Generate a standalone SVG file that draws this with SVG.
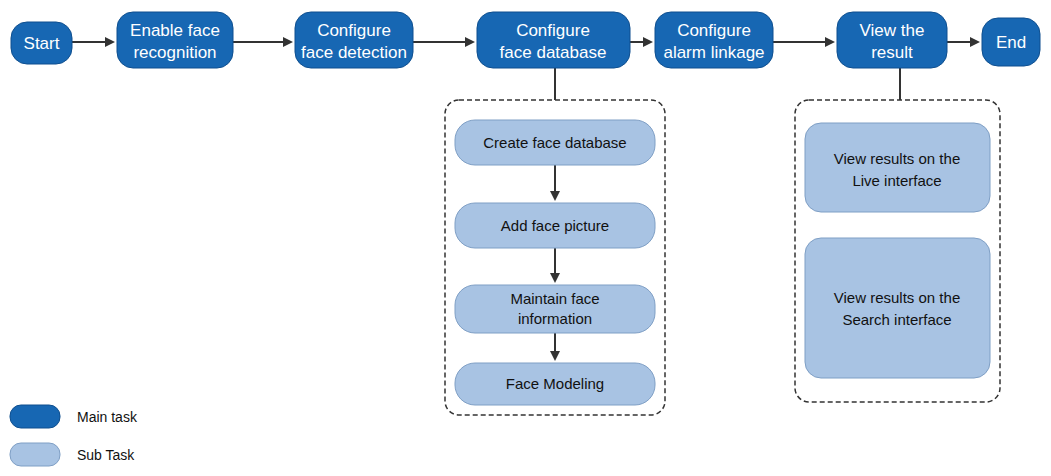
<svg xmlns="http://www.w3.org/2000/svg" width="1051" height="476" viewBox="0 0 1051 476">
<defs>
<marker id="ah" markerWidth="10" markerHeight="10" refX="8" refY="5" orient="auto" markerUnits="userSpaceOnUse"><path d="M0,0 L10,5 L0,10 z" fill="#333"/></marker>
<style>
.m{fill:#1767b3;stroke:#0f4f8f;stroke-width:1}
.s{fill:#a8c3e3;stroke:#7f9fc5;stroke-width:1}
.mt{font-family:"Liberation Sans",Arial,sans-serif;font-size:17px;fill:#fff;text-anchor:middle}
.st{font-family:"Liberation Sans",Arial,sans-serif;font-size:15px;fill:#111;text-anchor:middle}
.lt{font-family:"Liberation Sans",Arial,sans-serif;font-size:14px;fill:#111}
.c{stroke:#333;stroke-width:2;fill:none}
.d{stroke:#333;stroke-width:1.5;fill:none;stroke-dasharray:5,3}
</style>
</defs>
<rect width="1051" height="476" fill="#fff"/>
<g id="connectors">
<line class="c" x1="72" y1="42" x2="113" y2="42" marker-end="url(#ah)"/>
<line class="c" x1="233" y1="42" x2="291" y2="42" marker-end="url(#ah)"/>
<line class="c" x1="413" y1="42" x2="473" y2="42" marker-end="url(#ah)"/>
<line class="c" x1="630" y1="42" x2="651" y2="42" marker-end="url(#ah)"/>
<line class="c" x1="773" y1="42" x2="833" y2="42" marker-end="url(#ah)"/>
<line class="c" x1="947" y1="42" x2="978" y2="42" marker-end="url(#ah)"/>
<line class="c" x1="555" y1="68" x2="555" y2="100"/>
<line class="c" x1="900" y1="68" x2="900" y2="100"/>
<line class="c" x1="555" y1="165" x2="555" y2="199" marker-end="url(#ah)"/>
<line class="c" x1="555" y1="248" x2="555" y2="281" marker-end="url(#ah)"/>
<line class="c" x1="555" y1="333" x2="555" y2="359" marker-end="url(#ah)"/>
<rect class="d" x="445" y="100" width="220" height="315" rx="14"/>
<rect class="d" x="795" y="100" width="205" height="302" rx="14"/>
</g>
<g id="start"><rect class="m" x="11" y="22" width="61" height="42" rx="16"/><text class="mt" x="41.5" y="49">Start</text></g>
<g id="enable"><rect class="m" x="117" y="12" width="116" height="56" rx="16"/><text class="mt" x="175" y="36">Enable face</text><text class="mt" x="175" y="58">recognition</text></g>
<g id="detect"><rect class="m" x="295" y="12" width="118" height="56" rx="16"/><text class="mt" x="354" y="36">Configure</text><text class="mt" x="354" y="58">face detection</text></g>
<g id="database"><rect class="m" x="477" y="12" width="153" height="56" rx="16"/><text class="mt" x="553" y="36">Configure</text><text class="mt" x="553" y="58">face database</text></g>
<g id="alarm"><rect class="m" x="655" y="12" width="118" height="56" rx="16"/><text class="mt" x="714" y="36">Configure</text><text class="mt" x="714" y="58">alarm linkage</text></g>
<g id="view"><rect class="m" x="837" y="12" width="110" height="56" rx="16"/><text class="mt" x="892" y="36">View the</text><text class="mt" x="892" y="58">result</text></g>
<g id="end"><rect class="m" x="982" y="18" width="58" height="48" rx="16"/><text class="mt" x="1011" y="48">End</text></g>
<g id="create"><rect class="s" x="455" y="120" width="200" height="45" rx="20"/><text class="st" x="555" y="148">Create face database</text></g>
<g id="add"><rect class="s" x="455" y="203" width="200" height="45" rx="20"/><text class="st" x="555" y="231">Add face picture</text></g>
<g id="maintain"><rect class="s" x="455" y="285" width="200" height="48" rx="20"/><text class="st" x="555" y="304">Maintain face</text><text class="st" x="555" y="324">information</text></g>
<g id="model"><rect class="s" x="455" y="363" width="200" height="42" rx="20"/><text class="st" x="555" y="389">Face Modeling</text></g>
<g id="live"><rect class="s" x="805" y="123" width="185" height="89" rx="16"/><text class="st" x="897" y="164">View results on the</text><text class="st" x="897" y="186">Live interface</text></g>
<g id="search"><rect class="s" x="805" y="238" width="185" height="140" rx="16"/><text class="st" x="897" y="303">View results on the</text><text class="st" x="897" y="325">Search interface</text></g>
<g id="legend-main"><rect class="m" x="10" y="405" width="50" height="23" rx="11"/><text class="lt" x="77" y="422">Main task</text></g>
<g id="legend-sub"><rect class="s" x="10" y="443" width="50" height="23" rx="11"/><text class="lt" x="77" y="460">Sub Task</text></g>
</svg>
